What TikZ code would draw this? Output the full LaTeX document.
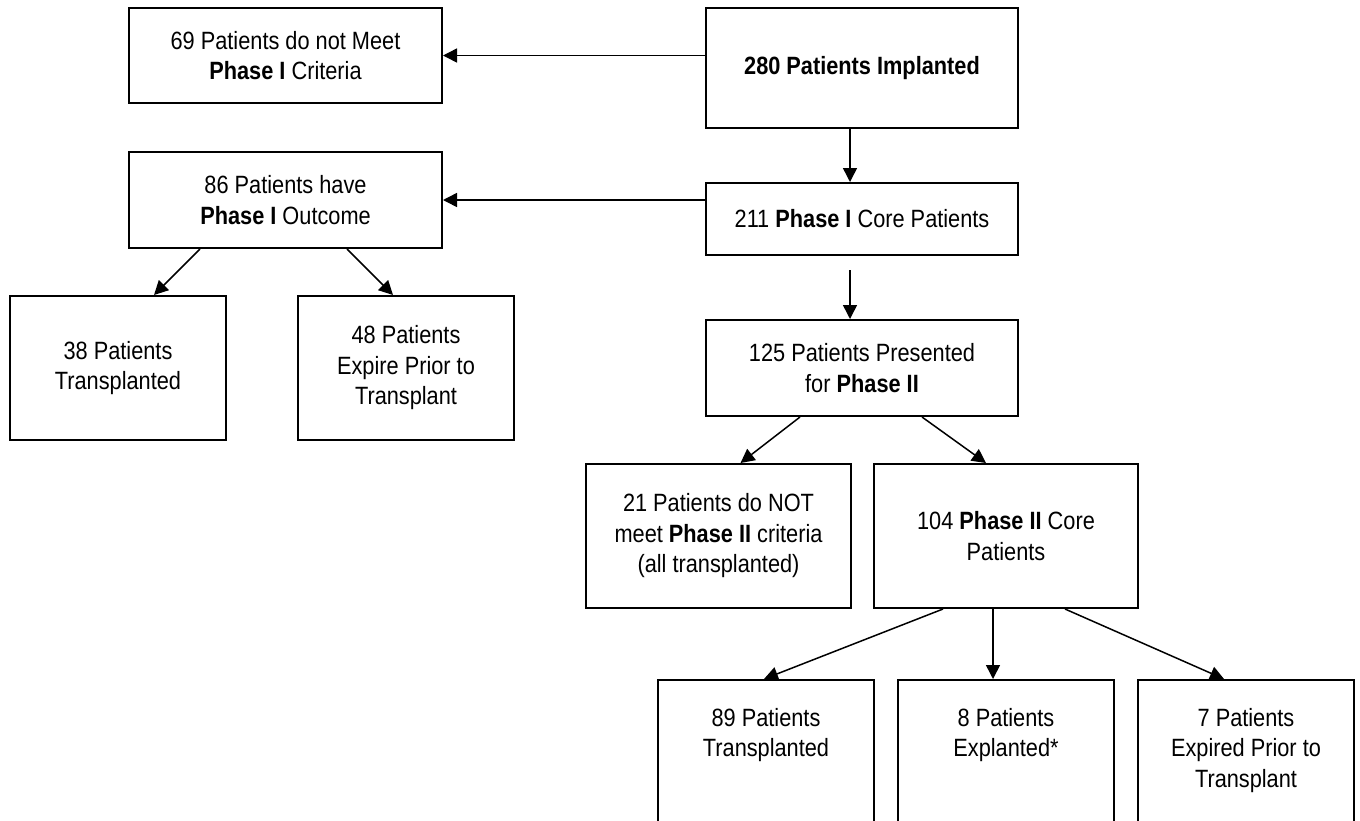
\documentclass[tikz,border=0pt]{standalone}
\usepackage{fontspec}
\setmainfont[FakeStretch=0.87]{Liberation Sans}
\usetikzlibrary{arrows.meta,calc}
\begin{document}
\begin{tikzpicture}[x=1pt,y=1pt,
  box/.style={draw, line width=2pt, inner sep=0pt, align=center, anchor=north west,
    font=\fontsize{25}{30.5}\selectfont},
  txt/.style={inner sep=0pt, align=center, anchor=north, font=\fontsize{25}{30.5}\selectfont},
  arr/.style={line width=1.5pt, -{Triangle[length=14pt,width=14pt]}}]
\useasboundingbox (0,0) rectangle (1360,-820);
\clip (0,0) rectangle (1360,-820);
\fill[white] (0,0) rectangle (1360,-820);
% boxes
\node[box, minimum width=313pt, minimum height=95pt] (b1) at (128,-7) {69 Patients do not Meet\\\textbf{Phase I} Criteria};
\node[box, minimum width=312pt, minimum height=120pt] (b2) at (705,-7) {\raisebox{5pt}{\textbf{280 Patients Implanted}}};
\node[box, minimum width=313pt, minimum height=96pt] (b3) at (128,-151) {86 Patients have\\\textbf{Phase I} Outcome};
\node[box, minimum width=312pt, minimum height=72pt] (b4) at (705,-182) {211 \textbf{Phase I} Core Patients};
\node[box, minimum width=216pt, minimum height=144pt] (b5) at (9,-295) {38 Patients\\Transplanted};
\node[box, minimum width=216pt, minimum height=144pt] (b6) at (297,-295) {48 Patients\\Expire Prior to\\Transplant};
\node[box, minimum width=312pt, minimum height=96pt] (b7) at (705,-319) {125 Patients Presented\\for \textbf{Phase II}};
\node[box, minimum width=265pt, minimum height=144pt] (b8) at (585,-463) {21 Patients do NOT\\meet \textbf{Phase II} criteria\\(all transplanted)};
\node[box, minimum width=264pt, minimum height=144pt] (b9) at (873,-463) {104 \textbf{Phase II} Core\\Patients};
\node[box, minimum width=216pt, minimum height=200pt] (b10) at (657,-679) {};
\node[box, minimum width=216pt, minimum height=200pt] (b11) at (897,-679) {};
\node[box, minimum width=216pt, minimum height=200pt] (b12) at (1137,-679) {};
\node[txt] (t10) at ([yshift=-29pt]b10.north) {89 Patients\\Transplanted};
\node[txt] (t11) at ([yshift=-29pt]b11.north) {8 Patients\\Explanted*};
\node[txt] (t12) at ([yshift=-29pt]b12.north) {7 Patients\\Expired Prior to\\Transplant};
% connectors
\draw[arr] (b1.east -| b2.west) -- (b1.east);
\draw[arr] (b3.east -| b4.west) -- (b3.east);
\draw[arr] ([xshift=-12pt]b2.south) -- ([xshift=-12pt]b2.south |- b4.north);
\coordinate (c47) at (850,-270);
\draw[arr] (c47) -- (c47 |- b7.north);
\draw[arr] ([xshift=72pt]b3.south west) -- ([xshift=36pt]b5.north);
\draw[arr] ([xshift=219pt]b3.south west) -- ([xshift=-13pt]b6.north);
\draw[arr] ([xshift=95pt]b7.south west) -- ([xshift=22pt]b8.north);
\draw[arr] ([xshift=217pt]b7.south west) -- ([xshift=-20pt]b9.north);
\draw[arr] ([xshift=70pt]b9.south west) -- ([xshift=-2pt]b10.north);
\draw[arr] ([xshift=120pt]b9.south west) -- ([xshift=120pt]b9.south west |- b11.north);
\draw[arr] ([xshift=192pt]b9.south west) -- ([xshift=-22pt]b12.north);
\end{tikzpicture}
\end{document}
